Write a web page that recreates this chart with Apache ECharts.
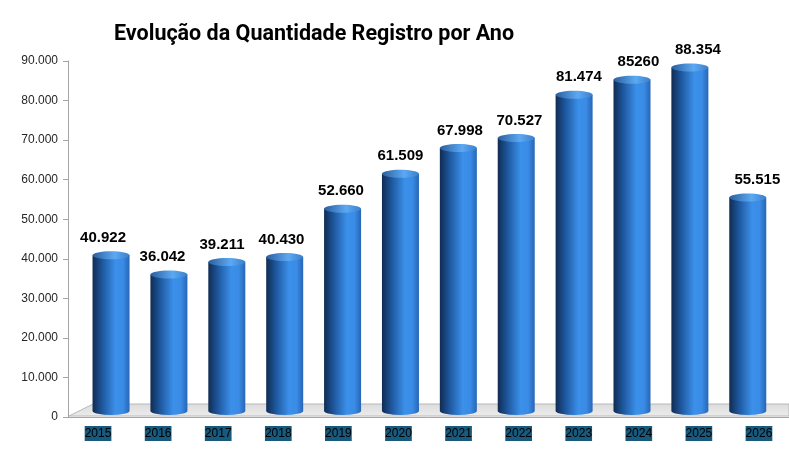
<!DOCTYPE html>
<html>
<head>
<meta charset="utf-8">
<script src="https://cdn.jsdelivr.net/npm/echarts@6/dist/echarts.min.js"></script>
<style>
  html, body { margin: 0; padding: 0; background: #fff; }
  #main { width: 789px; height: 450px; }
</style>
</head>
<body>
<div id="main"></div>
<script>
// dados do gráfico
var anos = ['2015', '2016', '2017', '2018', '2019', '2020', '2021', '2022', '2023', '2024', '2025', '2026'];
var registros = [40922, 36042, 39211, 40430, 52660, 61509, 67998, 70527, 81474, 85260, 88354, 55515];
// rótulos como aparecem na imagem (2024 sem separador)
var rotulos = ['40.922', '36.042', '39.211', '40.430', '52.660', '61.509', '67.998', '70.527', '81.474', '85260', '88.354', '55.515'];
var eixoY = { min: 0, max: 90000, interval: 10000 };

var myChart = echarts.init(document.getElementById('main'));

// gradiente do cilindro
var corCilindro = new echarts.graphic.LinearGradient(0, 0, 1, 0, [
  { offset: 0, color: '#102c52' },
  { offset: 0.25, color: '#1d559b' },
  { offset: 0.62, color: '#3b90ea' },
  { offset: 0.82, color: '#3a8ce6' },
  { offset: 1, color: '#2766b6' }
]);
var corTopo = new echarts.graphic.LinearGradient(0, 0, 1, 0, [
  { offset: 0, color: '#2a5f9e' },
  { offset: 0.6, color: '#5ca9f2' },
  { offset: 1, color: '#3a7fcc' }
]);

// piso cinza em perspectiva
function desenhaPiso(params, api) {
  var cs = params.coordSys;
  var y0 = api.coord([0, 0])[1];
  var left = cs.x + 1;
  var right = cs.x + cs.width;
  return {
    type: 'polygon',
    shape: { points: [[left, y0 - 1], [left + 24, y0 - 13], [right, y0 - 13], [right, y0 - 1]] },
    style: {
      fill: new echarts.graphic.LinearGradient(0, 0, 0, 1, [
        { offset: 0, color: '#dcdcdc' },
        { offset: 1, color: '#ececec' }
      ]),
      stroke: '#b8b8b8',
      lineWidth: 1
    },
    silent: true
  };
}

// cilindro 3D
function desenhaCilindro(params, api) {
  var i = api.value(0);
  var topo = api.coord([i, api.value(1)]);
  var base = api.coord([i, 0]);
  var cx = topo[0] + 13 - i * 2.2;
  var w = 37;
  var ry = 4;
  var yTop = topo[1];
  var yBot = base[1] - 6;
  var lx = topo[0] + 5 - i * 0.6;
  return {
    type: 'group',
    children: [
      {
        type: 'path',
        shape: {
          pathData: 'M' + (cx - w / 2) + ' ' + yTop +
            ' L' + (cx - w / 2) + ' ' + yBot +
            ' A' + (w / 2) + ' ' + ry + ' 0 0 0 ' + (cx + w / 2) + ' ' + yBot +
            ' L' + (cx + w / 2) + ' ' + yTop + ' Z'
        },
        style: { fill: corCilindro }
      },
      {
        type: 'ellipse',
        shape: { cx: cx, cy: yTop, rx: w / 2, ry: ry },
        style: { fill: corTopo }
      },
      {
        type: 'text',
        style: {
          text: rotulos[i],
          x: lx,
          y: yTop - 10,
          align: 'center',
          verticalAlign: 'bottom',
          font: 'bold 15px "Liberation Sans", Arial, sans-serif',
          fill: '#000'
        }
      }
    ]
  };
}

var option = {
  animation: false,
  title: {
    text: 'Evolução da Quantidade Registro por Ano',
    left: 109,
    top: 19,
    textStyle: { fontFamily: 'Roboto', fontWeight: 'bold', fontSize: 21.5, color: '#000' }
  },
  grid: { left: 68, right: -4, top: 61, bottom: 33 },
  xAxis: {
    type: 'category',
    data: anos,
    axisLine: { lineStyle: { color: '#a6a6a6', width: 1 } },
    axisTick: { lineStyle: { color: '#a6a6a6' }, length: 5 },
    axisLabel: {
      margin: 9,
      color: '#000',
      fontFamily: 'Liberation Sans',
      fontSize: 12,
      backgroundColor: '#175a7e',
      padding: [2, 0, 1, 0]
    }
  },
  yAxis: {
    type: 'value',
    min: eixoY.min,
    max: eixoY.max,
    interval: eixoY.interval,
    splitLine: { show: false },
    axisLine: { show: true, lineStyle: { color: '#a6a6a6' } },
    axisTick: { show: true, length: 5, lineStyle: { color: '#a6a6a6' } },
    axisLabel: {
      margin: 10,
      color: '#262626',
      fontFamily: 'Liberation Sans',
      fontSize: 12,
      formatter: function (v) {
        return v === 0 ? '0' : (v / 1000).toFixed(0) + '.000';
      }
    }
  },
  series: [
    {
      type: 'custom',
      renderItem: desenhaPiso,
      data: [[0, 0]],
      z: 1,
      silent: true
    },
    {
      type: 'custom',
      renderItem: desenhaCilindro,
      encode: { x: 0, y: 1 },
      data: registros.map(function (v, i) { return [i, v]; }),
      z: 2
    }
  ]
};
myChart.setOption(option);
</script>
</body>
</html>
